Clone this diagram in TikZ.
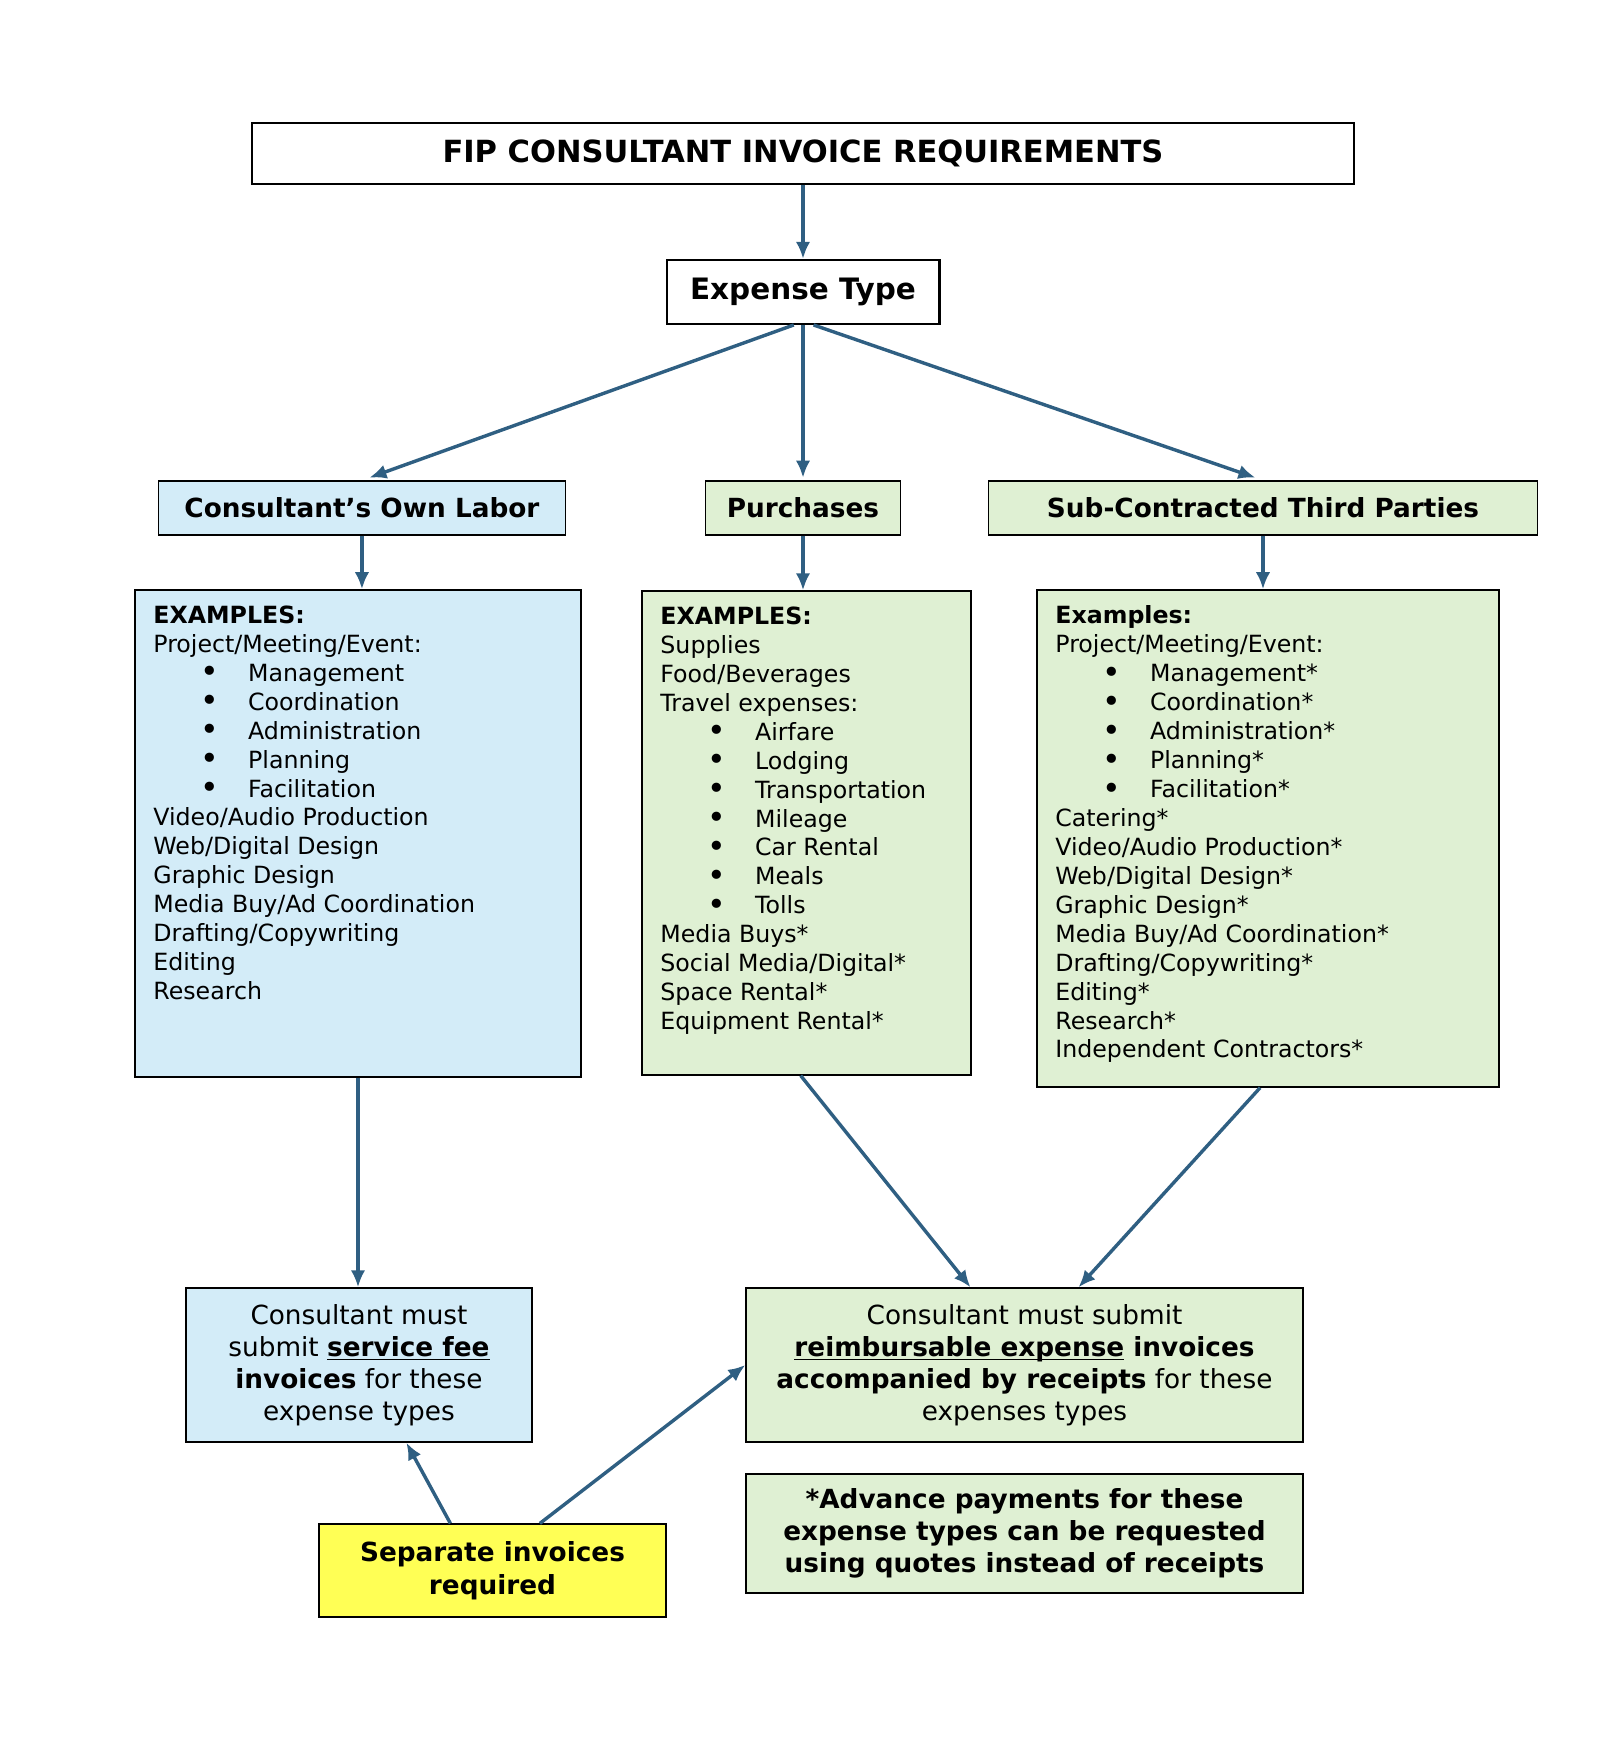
\documentclass[tikz,border=0pt]{standalone}
\usepackage{fontspec}
\setmainfont{DejaVu Sans}
\usetikzlibrary{arrows.meta, positioning}

\definecolor{laborblue}{RGB}{211,236,248}
\definecolor{buygreen}{RGB}{223,240,211}
\definecolor{noteyellow}{RGB}{255,255,85}
\definecolor{flowblue}{RGB}{47,95,130}

\newcommand{\bul}{\hspace*{18pt}\makebox[18pt][l]{\raisebox{-0.6pt}{\fontsize{12}{11}\selectfont\textbullet}}}
\newcommand{\uln}[1]{\underline{\smash{#1}}}
\newcommand{\exlist}[3]{\parbox[c][#2][t]{#1}{#3}}

\begin{document}
\begin{tikzpicture}[x=0.38pt, y=-0.38pt]
    % Styles
    \tikzstyle{headbox} = [rectangle, draw, line width=0.8pt, font=\fontsize{11.2}{13}\selectfont\bfseries, text centered, inner sep=0pt]
    \tikzstyle{catbox} = [rectangle, draw, line width=0.5pt, font=\fontsize{10}{12}\selectfont\bfseries, text centered, inner sep=0pt, minimum height=20.5pt]
    \tikzstyle{listbox} = [rectangle, draw, line width=0.5pt, font=\fontsize{9}{11}\selectfont, inner xsep=7pt, inner ysep=6pt]
    \tikzstyle{resultbox} = [rectangle, draw, line width=0.5pt, font=\fontsize{10}{12.2}\selectfont, align=center, inner sep=0pt, minimum height=58.5pt]
    \tikzstyle{flow} = [draw, -{Latex[length=6.5pt, width=5.5pt]}, line width=1.3pt, flowblue]

    \useasboundingbox (0,0) rectangle (1610,1746);

    % Nodes
    \node [headbox, font=\fontsize{11.6}{13}\selectfont\bfseries, minimum width=418.7pt, minimum height=23.2pt] (title) at (803,153.5) {FIP CONSULTANT INVOICE REQUIREMENTS};
    \node [headbox, below of=title, node distance=52.6pt, minimum width=103.7pt, minimum height=24.3pt] (type) {Expense Type};
    \node [catbox, below of=type, node distance=82.1pt, fill=buygreen, minimum width=74.1pt] (purch) {Purchases};
    \node [catbox, left of=purch, node distance=167.6pt, fill=laborblue, minimum width=154.7pt] (labor) {Consultant’s Own Labor};
    \node [catbox, right of=purch, node distance=174.8pt, fill=buygreen, minimum width=208.6pt] (third) {Sub-Contracted Third Parties};

    \node [listbox, fill=laborblue] (ex1) at (358,833.5) {\exlist{155.5pt}{173.1pt}{%
        \textbf{EXAMPLES:}\\
        Project/Meeting/Event:\\
        \bul Management\\
        \bul Coordination\\
        \bul Administration\\
        \bul Planning\\
        \bul Facilitation\\
        Video/Audio Production\\
        Web/Digital Design\\
        Graphic Design\\
        Media Buy/Ad Coordination\\
        Drafting/Copywriting\\
        Editing\\
        Research}};
    \node [listbox, fill=buygreen] (ex2) at (806.5,833) {\exlist{111pt}{171.9pt}{%
        \textbf{EXAMPLES:}\\
        Supplies\\
        Food/Beverages\\
        Travel expenses:\\
        \bul Airfare\\
        \bul Lodging\\
        \bul Transportation\\
        \bul Mileage\\
        \bul Car Rental\\
        \bul Meals\\
        \bul Tolls\\
        Media Buys*\\
        Social Media/Digital*\\
        Space Rental*\\
        Equipment Rental*}};
    \node [listbox, fill=buygreen] (ex3) at (1268,838.5) {\exlist{161.6pt}{176.9pt}{%
        \textbf{Examples:}\\
        Project/Meeting/Event:\\
        \bul Management*\\
        \bul Coordination*\\
        \bul Administration*\\
        \bul Planning*\\
        \bul Facilitation*\\
        Catering*\\
        Video/Audio Production*\\
        Web/Digital Design*\\
        Graphic Design*\\
        Media Buy/Ad Coordination*\\
        Drafting/Copywriting*\\
        Editing*\\
        Research*\\
        Independent Contractors*}};

    \node [resultbox, fill=laborblue, minimum width=131.5pt] (service) at (359,1365) {Consultant must\\ submit \textbf{\uln{service fee}}\\ \textbf{invoices} for these\\ expense types};
    \node [resultbox, fill=buygreen, minimum width=211.7pt] (reimb) at (1024.5,1365) {Consultant must submit\\ \textbf{\uln{reimbursable expense} invoices}\\ \textbf{accompanied by receipts} for these\\ expenses types};
    \node [resultbox, below of=reimb, node distance=64pt, fill=buygreen, font=\fontsize{10}{12.1}\selectfont\bfseries, minimum width=211.7pt, minimum height=45.2pt] (advance) {*Advance payments for these\\ expense types can be requested\\ using quotes instead of receipts};
    \node [resultbox, fill=noteyellow, font=\fontsize{10}{12.6}\selectfont\bfseries, minimum width=131.9pt, minimum height=35.3pt] (separate) at (492.5,1570.5) {Separate invoices\\ required};

    % Connections
    \path [flow] (type.north |- title.south) -- (type.north);
    \path [flow, shorten >=3pt] ([xshift=-3.5pt]type.south) -- (labor.north);
    \path [flow, shorten >=1pt] (type.south) -- (type.south |- purch.north);
    \path [flow, shorten >=3pt] ([xshift=4pt]type.south) -- (third.north);
    \path [flow] (labor.south) -- (labor.south |- ex1.north);
    \path [flow] (purch.south) -- (purch.south |- ex2.north);
    \path [flow] (third.south) -- (third.south |- ex3.north);
    \path [flow] (ex1.south) -- (ex1.south |- service.north);
    \path [flow] ([xshift=-2.2pt]ex2.south) -- ([xshift=-20.5pt]reimb.north);
    \path [flow] ([xshift=-3pt]ex3.south) -- ([xshift=20.5pt]reimb.north);
    \path [flow] ([xshift=-16pt]separate.north) -- ([xshift=18pt]service.south);
    \path [flow] ([xshift=18pt]separate.north) -- (reimb.west);

\end{tikzpicture}
\end{document}
